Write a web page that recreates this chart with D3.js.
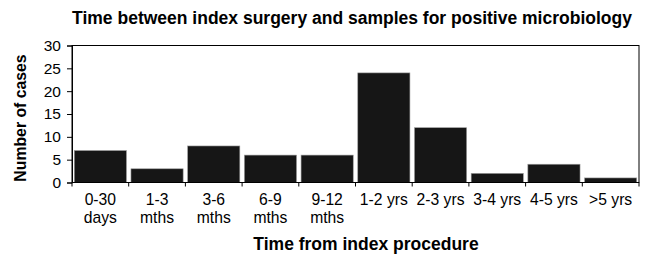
<!DOCTYPE html>
<html><head><meta charset="utf-8">
<script src="https://cdn.jsdelivr.net/npm/d3@7"></script>
<style>body{margin:0;background:#fff}svg{display:block}text{font-family:"Liberation Sans",Arial,sans-serif;fill:#000}</style>
</head><body>
<svg id="c" width="646" height="256"></svg>
<script>
const categories = ["0-30 days","1-3 mths","3-6 mths","6-9 mths","9-12 mths","1-2 yrs","2-3 yrs","3-4 yrs","4-5 yrs",">5 yrs"];
const tickLines = [["0-30","days"],["1-3","mths"],["3-6","mths"],["6-9","mths"],["9-12","mths"],["1-2 yrs"],["2-3 yrs"],["3-4 yrs"],["4-5 yrs"],[">5 yrs"]];
const cases = [7,3,8,6,6,24,12,2,4,1];
const yTicks = [0,5,10,15,20,25,30];

const svg = d3.select("#c");
const m = {l:72, r:639, t:45.5, b:182.5};
const x = d3.scaleBand().domain(categories).range([m.l, m.r]).paddingInner(0.08).paddingOuter(0.04);
const xb = d3.scaleBand().domain(categories).range([m.l, m.r]);
const y = d3.scaleLinear().domain([0,30]).range([m.b, m.t]);

// frame
svg.append("rect").attr("x",m.l).attr("y",m.t).attr("width",m.r-m.l).attr("height",m.b-m.t)
  .attr("fill","none").attr("stroke","#000").attr("stroke-width",1);

// bars
svg.selectAll(".bar").data(cases).join("rect")
  .attr("x",(d,i)=>x(categories[i])).attr("width",x.bandwidth())
  .attr("y",d=>y(d)).attr("height",d=>y(0)-y(d))
  .attr("fill","#161616").attr("stroke","#9a9a9a").attr("stroke-width",0.6);

// y axis
const ya = svg.append("g").attr("transform",`translate(${m.l},0)`)
  .call(d3.axisLeft(y).tickValues(yTicks).tickSize(5).tickPadding(6));
ya.select(".domain").attr("stroke","#000");
ya.selectAll("text").style("font-size","15.5px").style("font-family","Liberation Sans, Arial, sans-serif").attr("fill","#000");

// x axis ticks at boundaries
const bounds = categories.map(c=>xb(c)).concat([m.r]);
svg.append("line").attr("x1",m.l).attr("x2",m.r).attr("y1",m.b).attr("y2",m.b).attr("stroke","#000");
svg.selectAll(".xt").data(bounds).join("line")
  .attr("x1",d=>d).attr("x2",d=>d).attr("y1",m.b).attr("y2",m.b+4).attr("stroke","#000");
const xl = svg.selectAll(".xl").data(categories).join("text")
  .attr("x",c=>xb(c)+xb.bandwidth()/2).attr("y",205)
  .attr("text-anchor","middle").style("font-size","15.7px");
xl.each(function(c,i){
  const t=d3.select(this);
  tickLines[i].forEach((s,j)=>t.append("tspan").attr("x",xb(c)+xb.bandwidth()/2).attr("dy",j?18:0).text(s));
});

// titles
svg.append("text").attr("x",352).attr("y",24).attr("text-anchor","middle")
  .style("font-size","17.5px").style("font-weight","bold")
  .text("Time between index surgery and samples for positive microbiology");
svg.append("text").attr("transform","translate(26,118) rotate(-90)").attr("text-anchor","middle")
  .style("font-size","15.8px").style("font-weight","bold").text("Number of cases");
svg.append("text").attr("x",366).attr("y",250).attr("text-anchor","middle")
  .style("font-size","17.5px").style("font-weight","bold").text("Time from index procedure");
</script>
</body></html>
